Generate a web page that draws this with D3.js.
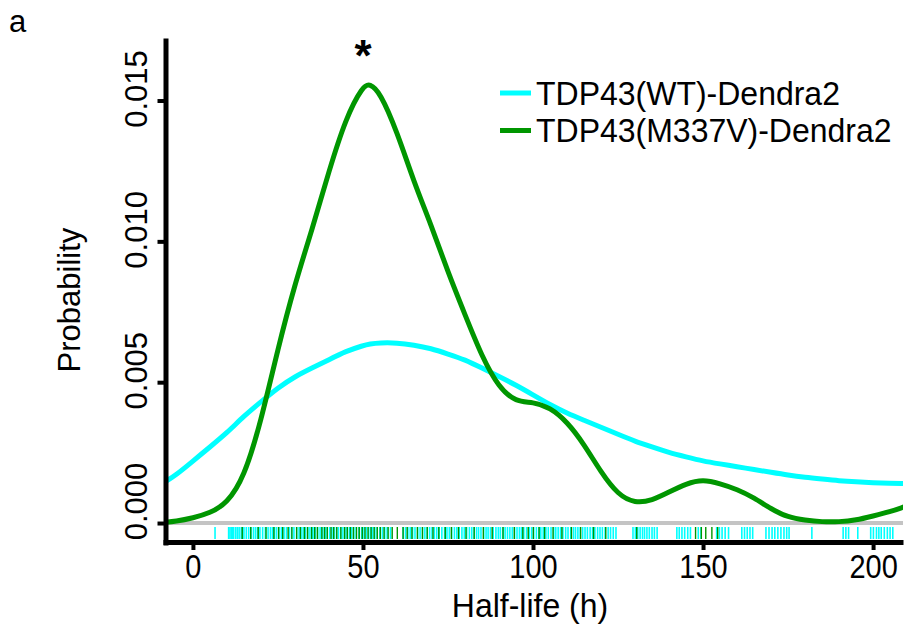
<!DOCTYPE html>
<html>
<head>
<meta charset="utf-8">
<script src="https://cdn.jsdelivr.net/npm/d3@7"></script>
<style>
  body { margin: 0; background: #fff; }
  text { font-family: "Liberation Sans", Arial, Helvetica, sans-serif; fill: #000; }
</style>
</head>
<body>
<div id="chart"></div>
<script>
// density curves (half-life in h, probability)
const gridX = [-9, -5, 0, 5, 10, 15, 20, 25, 30, 35, 40, 45, 50, 52, 55, 60, 65, 70, 75, 80, 85, 90, 95, 100,
  105, 110, 115, 120, 125, 130, 135, 140, 145, 150, 155, 160, 165, 170, 175, 180, 185, 190, 195, 200, 205, 209];
const wtDensity = [0.0014, 0.0017, 0.0022, 0.0027, 0.0032, 0.0038, 0.0043, 0.0048, 0.0052, 0.0055, 0.0058, 0.0061,
  0.0063, 0.00636, 0.0064, 0.0064, 0.00632, 0.0062, 0.0060, 0.0058, 0.0055, 0.0052, 0.0049, 0.00455,
  0.0042, 0.0039, 0.00365, 0.0034, 0.00315, 0.0029, 0.0027, 0.0025, 0.00235, 0.0022, 0.0021, 0.0020, 0.0019,
  0.0018, 0.0017, 0.00162, 0.00156, 0.0015, 0.00146, 0.00143, 0.00141, 0.0014];
const mutDensity = [0.00002, 0.00006, 0.00018, 0.00035, 0.0007, 0.0016, 0.0036, 0.0062, 0.0085, 0.0104, 0.0125, 0.0144,
  0.01552, 0.0156, 0.0153, 0.0139, 0.0121, 0.0106, 0.0089, 0.0074, 0.0059, 0.0048, 0.0043, 0.0043,
  0.0041, 0.0036, 0.0028, 0.0018, 0.0010, 0.0007, 0.0008, 0.0011, 0.0014, 0.00155, 0.0014, 0.0012, 0.0009,
  0.0005, 0.0002, 0.0001, 0.00004, 0.00004, 0.0001, 0.00025, 0.0004, 0.00057];

// individual half-lives (rug)
const wtHalfLives = [6.5,
  10.5, 10.9, 11.3, 11.7, 12.0, 12.6, 13.1, 13.6, 14.2, 14.6, 15.0, 15.7, 16.4, 17.1, 17.8, 18.4, 19.0, 19.7,
  20.5, 21.3, 22.1, 22.8, 23.4, 24.0, 24.6, 25.3, 26.0, 26.8, 27.5, 28.3, 29.0, 29.7, 30.5, 31.2, 31.8, 32.4,
  33.1, 33.8, 34.4, 35.1, 35.6, 36.0, 36.7, 37.4, 38.2, 38.9, 39.5, 40.2, 40.9, 41.5, 42.2, 42.8, 43.5, 44.1,
  44.7, 45.3, 46.0, 46.7, 47.3, 48.0, 48.8, 49.6, 50.3, 51.0, 51.7, 52.3, 52.9, 53.5, 54.2, 55.0, 55.7, 56.4,
  57.1, 58.1, 61.8, 62.5, 63.2, 63.9, 64.6, 65.3, 66.1, 66.8, 67.5, 68.2, 68.9, 69.6, 70.3, 71.0, 71.7, 72.4,
  73.2, 74.0, 74.7, 75.4, 76.1, 76.9, 77.6, 78.3, 79.1, 79.8, 80.5, 81.3, 82.0, 82.7, 83.4, 84.0, 84.7, 85.5,
  86.2, 86.8, 87.5, 88.3, 89.1, 89.8, 90.4, 91.1, 91.8, 92.5, 93.2, 93.9, 94.6, 95.3, 96.0, 96.6, 97.3, 98.1,
  98.9, 99.6, 100.2, 101.0, 101.7, 102.3, 103.0, 103.8, 104.5, 105.3, 106.1, 106.7, 107.4, 108.1, 108.8,
  109.6, 110.3, 111.1, 111.9, 112.5, 113.2, 113.9, 114.6, 115.3, 116.0, 116.8, 117.5, 118.2, 119.0, 119.7,
  120.4, 121.2, 122.1, 122.8, 123.6, 124.4,
  129.4, 130.1, 130.8, 131.5, 132.2, 132.8, 133.5, 134.2, 135.0, 135.7, 136.5,
  142.3, 143.0, 143.8, 144.6, 145.5, 146.3, 148.6, 149.4, 154.0, 154.8, 155.6, 156.5, 157.5, 161.4, 162.2,
  163.0, 163.8, 164.6, 168.5, 169.4, 170.3, 171.1, 172.0, 172.9, 173.8, 174.6, 175.3, 182.0, 191.2, 192.0,
  192.8, 195.5, 199.3, 200.1, 201.0, 201.7, 202.4, 203.3, 204.2, 205.0, 205.8];
const mutHalfLives = [14.5, 17.0, 19.2, 21.5, 23.8, 25.2, 26.4, 28.0, 29.1, 30.5, 31.6, 32.8, 33.7, 34.9, 35.8,
  36.6, 37.9, 38.7, 39.5, 40.6, 41.4, 42.3, 43.5, 44.6, 45.4, 46.3, 47.2, 48.1, 48.9, 49.8, 50.6, 51.5, 52.4,
  53.3, 54.2, 55.1, 56.2, 57.4, 58.6, 60.1, 61.8, 63.0, 64.4, 66.0, 67.5, 68.9, 70.6, 72.3, 74.2, 76.0, 78.1,
  80.3, 82.7, 85.4, 88.0, 91.2, 94.5, 97.0, 98.6, 100.1, 101.8, 103.4, 105.9, 108.5, 111.3, 114.0, 117.8,
  121.4, 130.5, 147.8, 149.5, 150.8, 152.6, 154.3];

const xTicks = [0, 50, 100, 150, 200];
const yTicks = [0, 0.005, 0.010, 0.015];
const seriesNames = ["TDP43(WT)-Dendra2", "TDP43(M337V)-Dendra2"];
const seriesColors = ["#00ffff", "#009600"];

const width = 911, height = 633;

const svg = d3.select("#chart").append("svg")
    .attr("width", width)
    .attr("height", height);

const x = d3.scaleLinear().domain([-8.8, 208.8]).range([163, 903]);
const y = d3.scaleLinear().domain([-0.00078, 0.01722]).range([545, 38]);

svg.append("clipPath").attr("id", "plot")
  .append("rect")
    .attr("x", 166).attr("y", 30)
    .attr("width", 903 - 166).attr("height", 515);

// zero line
svg.append("line")
    .attr("x1", 166).attr("x2", 903)
    .attr("y1", y(0)).attr("y2", y(0))
    .style("stroke", "#c4c4c4")
    .style("stroke-width", 4);

// rug
const rug = svg.append("g");
rug.selectAll("line.wt")
    .data(wtHalfLives)
    .enter().append("line")
    .attr("class", "wt")
    .attr("x1", d => x(d)).attr("x2", d => x(d))
    .attr("y1", 527).attr("y2", 539)
    .style("stroke", seriesColors[0])
    .style("stroke-width", 1.6);
rug.selectAll("line.mut")
    .data(mutHalfLives)
    .enter().append("line")
    .attr("class", "mut")
    .attr("x1", d => x(d)).attr("x2", d => x(d))
    .attr("y1", 527).attr("y2", 539)
    .style("stroke", seriesColors[1])
    .style("stroke-width", 1.4);

// density lines
const line = d3.line()
    .x(d => x(d[0]))
    .y(d => y(d[1]))
    .curve(d3.curveBasis);

const curves = [wtDensity, mutDensity];
curves.forEach(function (vals, i) {
    svg.append("path")
        .datum(gridX.map((gx, j) => [gx, vals[j]]))
        .attr("clip-path", "url(#plot)")
        .attr("d", line)
        .style("fill", "none")
        .style("stroke", seriesColors[i])
        .style("stroke-width", 5);
});

// axes
const xAxis = svg.append("g")
    .attr("transform", "translate(0,542)")
    .call(d3.axisBottom(x).tickValues(xTicks).tickSize(8).tickSizeOuter(0));
const yAxis = svg.append("g")
    .attr("transform", "translate(165.5,0)")
    .call(d3.axisLeft(y).tickValues(yTicks).tickSize(8).tickSizeOuter(0).tickFormat(d3.format(".3f")));

[xAxis, yAxis].forEach(function (g) {
    g.select(".domain").style("stroke", "#000").style("stroke-width", 5);
    g.selectAll(".tick line").style("stroke", "#000").style("stroke-width", 4);
});
// Helvetica in the figure is a little taller than Liberation Sans
xAxis.selectAll(".tick text")
    .attr("y", 0)
    .attr("dy", 0)
    .attr("transform", "translate(0,36) scale(1,1.12)")
    .style("font-size", "29px")
    .attr("fill", "#000");
yAxis.selectAll(".tick text")
    .attr("transform", "rotate(-90)")
    .attr("x", d => d === 0 ? 22 : 12)
    .attr("y", -18.5)
    .attr("dy", 0)
    .attr("text-anchor", "middle")
    .style("font-size", "31px")
    .attr("fill", "#000");

// axis titles
svg.append("text")
    .attr("transform", "translate(530,617) scale(1,1.05)")
    .attr("text-anchor", "middle")
    .style("font-size", "32px")
    .text("Half-life (h)");
svg.append("text")
    .attr("transform", "translate(80,300) rotate(-90)")
    .attr("text-anchor", "middle")
    .style("font-size", "31px")
    .text("Probability");

// panel letter and significance star
svg.append("text")
    .attr("x", 9).attr("y", 32)
    .style("font-size", "31px")
    .text("a");
svg.append("text")
    .attr("x", x(50)).attr("y", 71)
    .attr("text-anchor", "middle")
    .style("font-size", "44px")
    .style("font-weight", "bold")
    .text("*");

// legend
const legend = svg.append("g");
seriesNames.forEach(function (name, i) {
    const cy = 93 + i * 37.5;
    legend.append("line")
        .attr("x1", 500).attr("x2", 531)
        .attr("y1", cy).attr("y2", cy)
        .style("stroke", seriesColors[i])
        .style("stroke-width", 5);
    legend.append("text")
        .attr("transform", "translate(536," + (cy + 11.5) + ") scale(1,1.05)")
        .style("font-size", "32px")
        .text(name);
});
</script>
</body>
</html>
